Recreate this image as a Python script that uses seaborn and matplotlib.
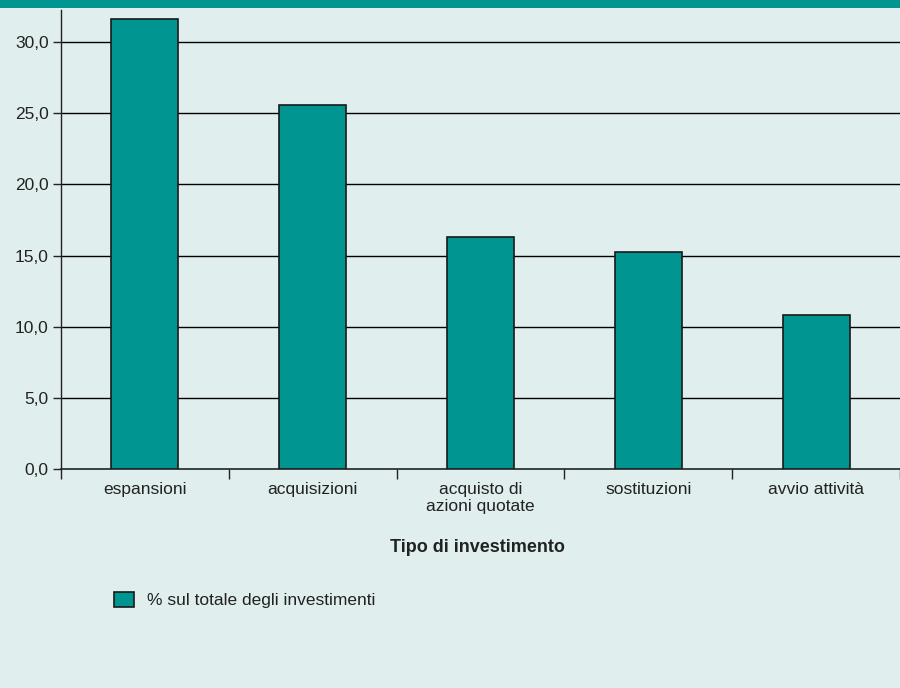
import matplotlib
matplotlib.use("Agg")
import matplotlib.pyplot as plt
import seaborn as sns
import pandas as pd
import numpy as np
from matplotlib.patches import Rectangle

categories = ["espansioni", "acquisizioni", "acquisto di\nazioni quotate", "sostituzioni", "avvio attività"]
values = [31.6, 25.6, 16.3, 15.25, 10.85]
series_label = "% sul totale degli investimenti"
yticks = [0, 5, 10, 15, 20, 25, 30]
ytick_labels = ["0,0", "5,0", "10,0", "15,0", "20,0", "25,0", "30,0"]
xlabel = "Tipo di investimento"

BG = "#e0eeee"
TEAL = "#009590"
FS = 12.5

sns.set_theme(style="white")
plt.rcParams["font.family"] = ["Liberation Sans", "DejaVu Sans"]

fig = plt.figure(figsize=(9, 6.88), dpi=100, facecolor=BG)
ax = fig.add_axes([61/900, 1 - 469/688, 1 - 61/900, (469 - 10)/688])
ax.set_facecolor(BG)

df = pd.DataFrame({"cat": categories, "val": values})
sns.barplot(data=df, x="cat", y="val", color=TEAL, saturation=1, width=0.4,
            edgecolor="#1a1a1a", linewidth=1.2, ax=ax, label=series_label, zorder=3)

ax.set_ylim(0, 32.25)
ax.set_xlim(-0.5, len(categories) - 0.5)
ax.set_yticks(yticks)
ax.set_yticklabels(ytick_labels, fontsize=FS, color="#222222")
for y in yticks[1:]:
    ax.axhline(y, color="black", lw=1.0, zorder=1)

ax.set_xticks(np.arange(-0.5, len(categories), 1.0))
ax.set_xticklabels([""] * (len(categories) + 1))
ax.set_xticks(np.arange(len(categories)), minor=True)
ax.set_xticklabels(categories, minor=True, fontsize=FS, color="#222222", linespacing=1.12)
ax.tick_params(axis="x", which="major", direction="out", length=7, width=1, color="#222222", bottom=True)
ax.tick_params(axis="x", which="minor", length=0, pad=9.5)
ax.tick_params(axis="y", direction="out", length=6, width=1, color="#222222", left=True, pad=3)

for s in ["top", "right"]:
    ax.spines[s].set_visible(False)
ax.spines["left"].set_color("#222222")
ax.spines["bottom"].set_color("#222222")
ax.spines["left"].set_linewidth(1.0)
ax.spines["bottom"].set_linewidth(1.2)
ax.set_xlabel("")
ax.set_ylabel("")
if ax.get_legend():
    ax.get_legend().remove()

fig.text(477/900, 1 - 547/688, xlabel, ha="center", va="center", fontsize=13,
         fontweight="bold", color="#222222")

handles, labels = ax.get_legend_handles_labels()
leg = fig.legend(handles[:1], labels[:1], loc="center left", bbox_to_anchor=(98/900, 1 - 600/688),
                 frameon=False, fontsize=FS, handlelength=1.2, handleheight=1.0, handletextpad=0.75)
for t in leg.get_texts():
    t.set_color("#222222")

fig.add_artist(Rectangle((0, 1 - 8/688), 1, 8/688, transform=fig.transFigure,
                         facecolor=TEAL, edgecolor="none"))

fig.savefig("out.png", dpi=100, facecolor=BG)
